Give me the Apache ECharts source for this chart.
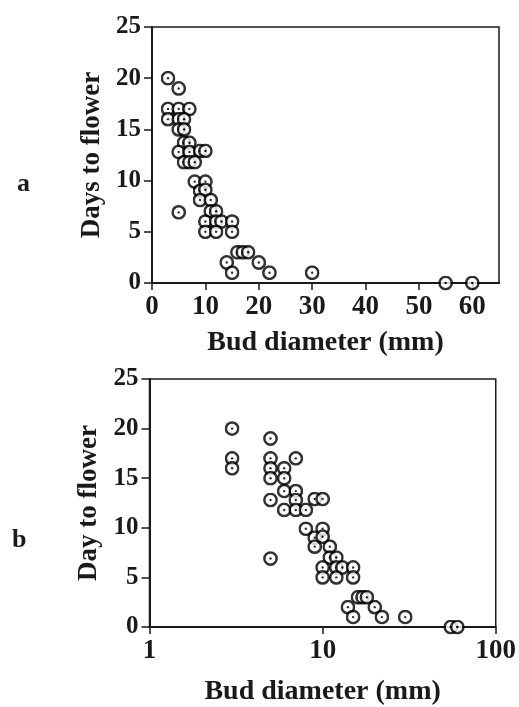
<!DOCTYPE html>
<html>
<head>
<meta charset="utf-8">
<script src="https://cdn.jsdelivr.net/npm/echarts@6/dist/echarts.min.js"></script>
<style>
html,body{margin:0;padding:0;background:#fff;}
#c{width:519px;height:707px;}
</style>
</head>
<body>
<div id="c"></div>
<script>
// Bud diameter (mm) and days to flower for each bud
var budDiameter = [3,5,3,5,7,3,5,6,5,6,6,7,5,7,9,10,6,7,8,8,10,9,10,9,11,5,11,12,10,12,13,15,10,12,15,14,15,16,17,18,20,22,30,55,60];
var daysToFlower = [20,19,17,17,17,16,16,16,15,15,13.7,13.7,12.8,12.8,12.9,12.9,11.8,11.8,11.8,9.9,9.9,9,9.1,8.1,8.1,6.9,7,7,6,6,6,6,5,5,5,2,1,3,3,3,2,1,1,0,0];
var linearXTicks = [0,10,20,30,40,50,60];
var logXTicks = [1,10,100];
var yTicks = [0,5,10,15,20,25];

var points = budDiameter.map(function(d,i){return [d, daysToFlower[i]];});

var svg = "<svg xmlns='http://www.w3.org/2000/svg' width='30' height='30'><circle cx='15' cy='15' r='12.3' fill='white' stroke='black' stroke-width='5'/><circle cx='15' cy='15' r='2.4' fill='black'/></svg>";
var sym = 'image://data:image/svg+xml;charset=utf-8,' + encodeURIComponent(svg);

var FONT = '"Liberation Serif", "Times New Roman", serif';
var ink = '#1a1a1a';

function yAxis(idx, name){
  return {
    type:'value', gridIndex:idx, min:0, max:25, interval:5,
    name:name, nameLocation:'middle', nameGap:46, nameRotate:90,
    nameTextStyle:{fontFamily:FONT, fontWeight:'bold', fontSize:27, color:ink},
    axisLine:{show:true, lineStyle:{color:ink, width:2}},
    axisTick:{show:true, inside:false, length:8, lineStyle:{color:ink, width:1.5}},
    axisLabel:{margin:11, fontFamily:FONT, fontWeight:'bold', fontSize:25, color:ink,
      formatter:function(v){return yTicks.indexOf(v)>=0 ? String(v) : '';}},
    splitLine:{show:false}
  };
}

function xName(gap){
  return {name:'Bud diameter (mm)', nameLocation:'middle', nameGap:gap,
    nameTextStyle:{fontFamily:FONT, fontWeight:'bold', fontSize:28, color:ink}};
}

var xCommon = {
  axisLine:{show:true, lineStyle:{color:ink, width:2}},
  axisTick:{show:true, length:7, lineStyle:{color:ink, width:1.5}},
  splitLine:{show:false}
};

var option = {
  animation:false,
  backgroundColor:'#fff',
  grid:[
    {left:152, top:27, width:347, height:256, show:true, borderColor:ink, borderWidth:1.5, backgroundColor:'transparent'},
    {left:149.5, top:379, width:348, height:260, show:true, borderColor:ink, borderWidth:1.5, backgroundColor:'transparent'}
  ],
  xAxis:[
    Object.assign({type:'value', gridIndex:0, min:0, max:65, interval:10,
     axisLabel:{margin:11, showMaxLabel:false, fontFamily:FONT, fontWeight:'bold', fontSize:27, color:ink,
       formatter:function(v){return linearXTicks.indexOf(v)>=0 ? String(v) : '';}}}, xCommon, xName(46)),
    Object.assign({type:'log', gridIndex:1, min:1, max:100, logBase:10,
     minorTick:{show:false},
     axisLabel:{margin:11, fontFamily:FONT, fontWeight:'bold', fontSize:27, color:ink,
       formatter:function(v){return logXTicks.indexOf(v)>=0 ? String(v) : '';}}}, xCommon, xName(51))
  ],
  yAxis:[ yAxis(0,'Days to flower'), yAxis(1,'Day to flower') ],
  series:[
    {type:'scatter', xAxisIndex:0, yAxisIndex:0, data:points, symbol:sym, symbolSize:15, z:3},
    {type:'scatter', xAxisIndex:1, yAxisIndex:1, data:points, symbol:sym, symbolSize:15, z:3}
  ],
  graphic:[
    {type:'text', left:17, top:171, style:{text:'a', font:'bold 26px ' + FONT, fill:ink}},
    {type:'text', left:12, top:527, style:{text:'b', font:'bold 26px ' + FONT, fill:ink}}
  ]
};

var chart = echarts.init(document.getElementById('c'), null, {renderer:'canvas'});
chart.setOption(option);
</script>
</body>
</html>
